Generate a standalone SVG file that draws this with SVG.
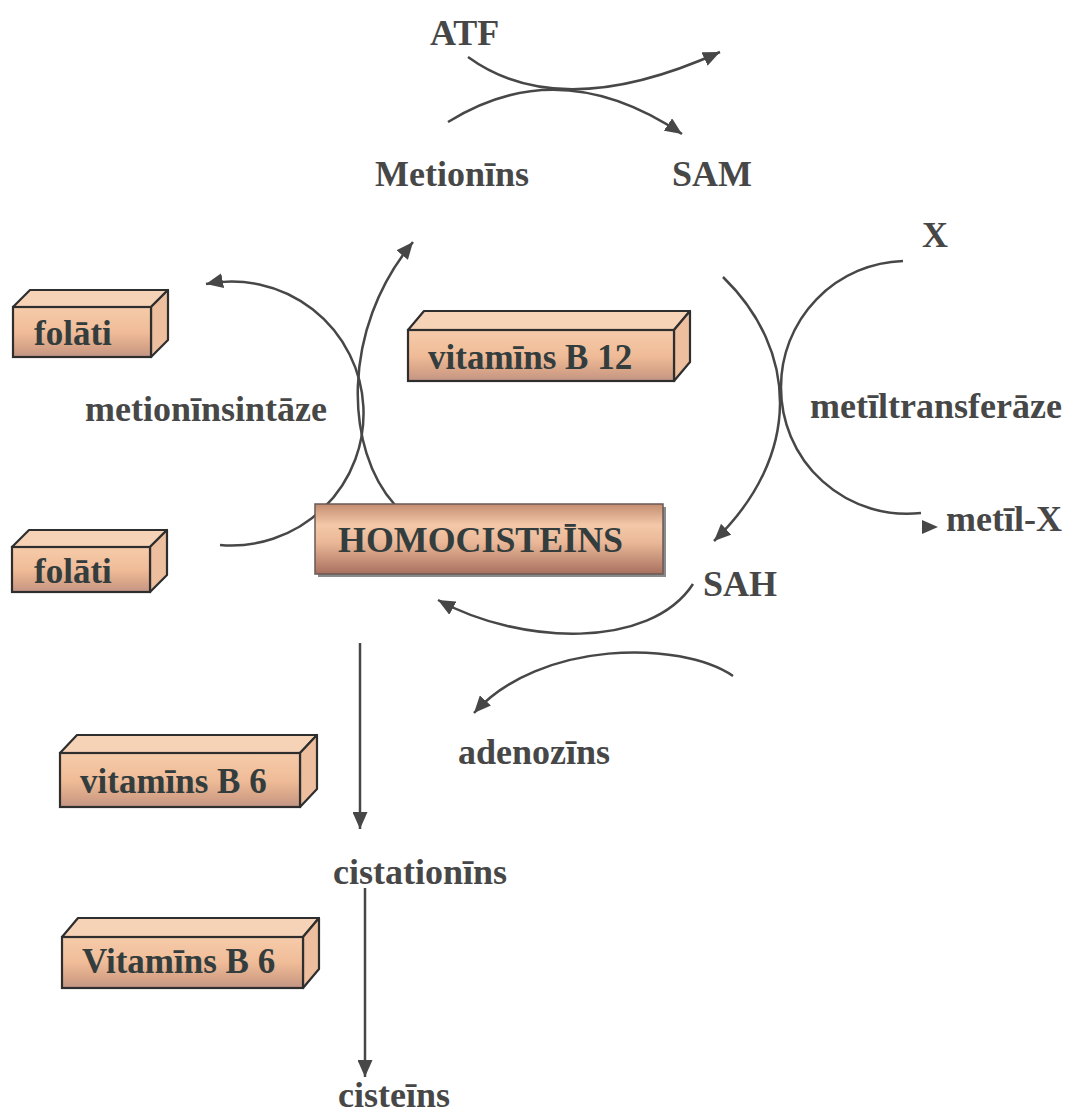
<svg xmlns="http://www.w3.org/2000/svg" width="1070" height="1113" viewBox="0 0 1070 1113">
<style>
.lbl{font-family:"Liberation Serif","Times New Roman",serif;font-weight:bold;font-size:36px;fill:#474747}
.blbl{font-family:"Liberation Serif","Times New Roman",serif;font-weight:bold;font-size:35px;fill:#333d3d}
.edge{fill:none;stroke:#474747;stroke-width:2.5}
.front{fill:url(#gFront);stroke:#2e2e2e;stroke-width:2.2}
.top{fill:#f6d2b6;stroke:#2e2e2e;stroke-width:2.2;stroke-linejoin:round}
.side{fill:#eebf9f;stroke:#2e2e2e;stroke-width:2.2;stroke-linejoin:round}
</style>
<defs>
<linearGradient id="gFront" x1="0" y1="0" x2="0" y2="1">
<stop offset="0" stop-color="#f6cbaa"/>
<stop offset="0.5" stop-color="#f0bc98"/>
<stop offset="0.8" stop-color="#d7a488"/>
<stop offset="1" stop-color="#c29585"/>
</linearGradient>
<linearGradient id="gHomo" x1="0" y1="0" x2="0" y2="1">
<stop offset="0" stop-color="#c48d70"/>
<stop offset="0.3" stop-color="#f3c8a8"/>
<stop offset="0.55" stop-color="#eab898"/>
<stop offset="1" stop-color="#a8705f"/>
</linearGradient>
<marker id="arr" viewBox="0 0 17 15" refX="17" refY="7.5" markerWidth="17" markerHeight="15" markerUnits="userSpaceOnUse" orient="auto">
<path d="M0,0 L17,7.5 L0,15 Z" fill="#474747"/>
</marker>
</defs>

<g id="connectors">
<path class="edge" d="M468,57 Q560,124 720,52" marker-end="url(#arr)"/>
<path class="edge" d="M448,122 Q560,52 682,134" marker-end="url(#arr)"/>
<path class="edge" d="M723,277 C798,350 803,455 714,541" marker-end="url(#arr)"/>
<path class="edge" d="M903,261 A126,126 0 0 0 781,387 A126,126 0 0 0 921,513"/>
<path d="M922,520 L938,527 L922,534 Z" fill="#474747"/>
<path class="edge" d="M693,584 C650,650 520,645 438,600" marker-end="url(#arr)"/>
<path class="edge" d="M733,676 C680,640 540,640 474,713" marker-end="url(#arr)"/>
<path class="edge" d="M220,545 A132,132 0 1 0 206,284" marker-end="url(#arr)"/>
<path class="edge" d="M395,505 C345,450 340,330 413,242" marker-end="url(#arr)"/>
<path class="edge" d="M360,643 L360,829" marker-end="url(#arr)"/>
<path class="edge" d="M365,888 L365,1077" marker-end="url(#arr)"/>
</g>

<g id="atf"><text class="lbl" x="430" y="45">ATF</text></g>
<g id="metionins"><text class="lbl" x="375" y="186">Metionīns</text></g>
<g id="sam"><text class="lbl" x="672" y="186">SAM</text></g>
<g id="x"><text class="lbl" x="922" y="247">X</text></g>
<g id="metiltransferaze"><text class="lbl" x="810" y="418">metīltransferāze</text></g>
<g id="metil-x"><text class="lbl" x="946" y="531">metīl-X</text></g>
<g id="sah"><text class="lbl" x="703" y="596">SAH</text></g>
<g id="adenozins"><text class="lbl" x="458" y="764">adenozīns</text></g>
<g id="cistationins"><text class="lbl" x="333" y="884">cistationīns</text></g>
<g id="cisteins"><text class="lbl" x="338" y="1107">cisteīns</text></g>
<g id="metioninsintaze"><text class="lbl" x="85" y="421">metionīnsintāze</text></g>

<g id="folati-1">
<polygon class="top" points="13,307 30,290 168,290 151,307"/>
<polygon class="side" points="151,307 168,290 168,340 151,357"/>
<rect class="front" x="13" y="307" width="138" height="50"/>
<text class="blbl" x="34" y="345">folāti</text>
</g>

<g id="folati-2">
<polygon class="top" points="12,547 29,530 167,530 150,547"/>
<polygon class="side" points="150,547 167,530 167,575 150,592"/>
<rect class="front" x="12" y="547" width="138" height="45"/>
<text class="blbl" x="34" y="583">folāti</text>
</g>

<g id="vitamins-b12">
<polygon class="top" points="408,330 424,311 690,311 674,330"/>
<polygon class="side" points="674,330 690,311 690,362 674,381"/>
<rect class="front" x="408" y="330" width="266" height="51"/>
<text class="blbl" x="428" y="369">vitamīns B 12</text>
</g>

<g id="homocisteins">
<rect x="318" y="507" width="348" height="70" fill="#8a8a8a"/>
<rect x="315" y="504" width="348" height="70" fill="url(#gHomo)" stroke="#6a5a55" stroke-width="1.5"/>
<text class="blbl" x="338" y="552" font-size="42" textLength="285" lengthAdjust="spacingAndGlyphs" fill="#2c3838">HOMOCISTEĪNS</text>
</g>

<g id="vitamins-b6">
<polygon class="top" points="60,753 77,735 317,735 300,753"/>
<polygon class="side" points="300,753 317,735 317,789 300,807"/>
<rect class="front" x="60" y="753" width="240" height="54"/>
<text class="blbl" x="80" y="793">vitamīns B 6</text>
</g>

<g id="vitamins-b6-2">
<polygon class="top" points="62,937 78,918 319,918 303,937"/>
<polygon class="side" points="303,937 319,918 319,969 303,988"/>
<rect class="front" x="62" y="937" width="241" height="51"/>
<text class="blbl" x="82" y="973" font-size="31">Vitamīns B 6</text>
</g>
</svg>
